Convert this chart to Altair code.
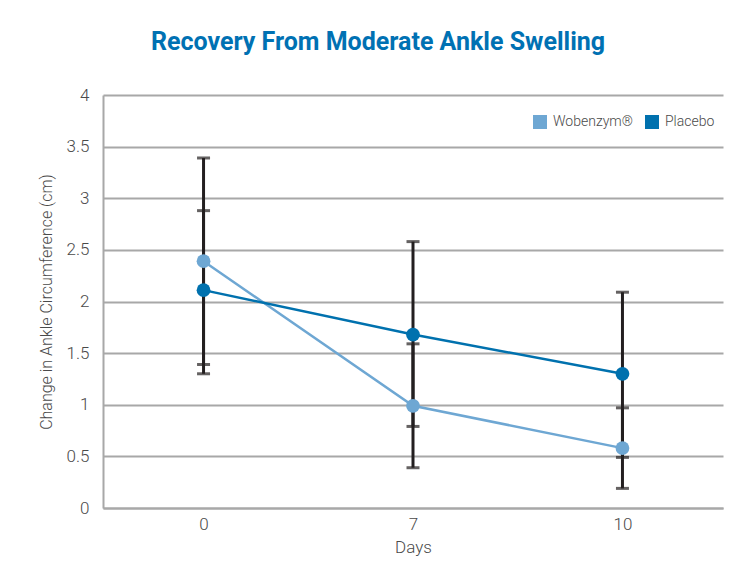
import altair as alt
import pandas as pd

days = ["0", "7", "10"]
series = ["Wobenzym®", "Placebo"]
wob_mean = [2.39, 0.99, 0.58]
wob_low = [1.39, 0.39, 0.19]
wob_high = [3.39, 1.59, 0.97]
pla_mean = [2.11, 1.68, 1.30]
pla_low = [1.30, 0.79, 0.49]
pla_high = [2.88, 2.58, 2.09]
colors = ["#6ea7d3", "#0071ae"]
y_ticks = [0, 0.5, 1, 1.5, 2, 2.5, 3, 3.5, 4]

rows = []
for name, m, lo, hi in zip(series, [wob_mean, pla_mean], [wob_low, pla_low], [wob_high, pla_high]):
    for d, a, b, c in zip(days, m, lo, hi):
        rows.append(dict(day=d, series=name, mean=a, low=b, high=c))
df = pd.DataFrame(rows)

label_font = "Roboto"
label_color = "#4a4a4a"
grid_color = "#a8a8a8"
bar_color = "#231f20"

x = alt.X(
    "day:N", sort=days,
    scale=alt.Scale(type="point", padding=0.48),
    axis=alt.Axis(title="Days", labelAngle=0, labelPadding=8, titlePadding=7),
)
yscale = alt.Scale(domain=[0, 4], nice=False, zero=True)
yaxis = alt.Axis(values=y_ticks, format="~g", title="Change in Ankle Circumference (cm)",
                 labelPadding=14, titlePadding=12)

legend = alt.Legend(title=None, orient="none", legendX=430, legendY=20,
                    direction="horizontal", symbolType="square",
                    symbolSize=196, symbolStrokeWidth=0, symbolOpacity=1,
                    labelFont=label_font, labelFontWeight=300, labelFontSize=14,
                    labelColor=label_color, columnPadding=11, labelOffset=6)
color = alt.Color("series:N", sort=series, scale=alt.Scale(domain=series, range=colors),
                  legend=legend)

base = alt.Chart(df)

rules = base.mark_rule(color=bar_color, strokeWidth=3).encode(
    x=x, y=alt.Y("low:Q", scale=yscale, axis=yaxis), y2="high:Q")
caps_low = base.mark_tick(color=bar_color, thickness=3, size=13, orient="horizontal").encode(
    x=x, y=alt.Y("low:Q", scale=yscale, axis=yaxis))
caps_high = base.mark_tick(color=bar_color, thickness=3, size=13, orient="horizontal").encode(
    x=x, y=alt.Y("high:Q", scale=yscale, axis=yaxis))
lines = base.mark_line(strokeWidth=2.5).encode(
    x=x, y=alt.Y("mean:Q", scale=yscale, axis=yaxis), color=color)
points = base.mark_point(filled=True, size=190, opacity=1).encode(
    x=x, y=alt.Y("mean:Q", scale=yscale, axis=yaxis), color=color)

chart = alt.layer(rules, caps_low, caps_high, lines, points).properties(
    width=620, height=413,
    autosize=alt.AutoSizeParams(type="none"),
    padding={"left": 95, "top": 87, "right": 1, "bottom": 66},
    title=alt.TitleParams("Recovery From Moderate Ankle Swelling", font="Roboto",
                          fontSize=25, fontWeight="bold", color="#0071b3", anchor="middle",
                          frame="group", dx=-35, offset=31),
).configure(background="white").configure_view(stroke=None).configure_axis(
    labelFont=label_font, labelFontWeight=300, labelFontSize=17, labelColor=label_color,
    titleFont=label_font, titleFontWeight=300, titleFontSize=16, titleColor=label_color,
    domainColor=grid_color, domainWidth=2, gridColor=grid_color, gridWidth=2, ticks=False,
).configure_axisX(grid=False, titleFontSize=17).configure_axisY(grid=True)

chart.save("out.html", embed_options={"renderer": "svg", "actions": False})
